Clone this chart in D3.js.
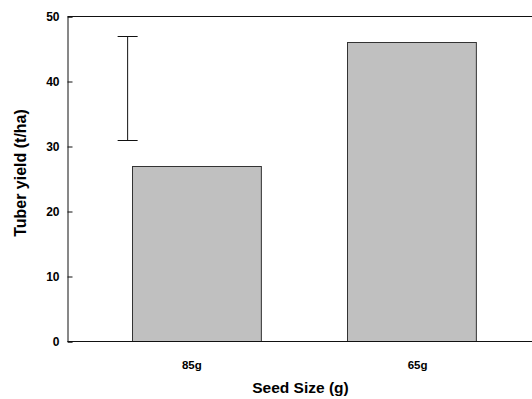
<!DOCTYPE html>
<html><head><meta charset="utf-8">
<script src="https://cdn.jsdelivr.net/npm/d3@7"></script>
<style>body{margin:0;background:#fff}svg{display:block}text{font-family:"Liberation Sans",Arial,sans-serif;font-weight:bold;fill:#000}</style>
</head><body>
<svg id="c" width="532" height="399"></svg>
<script>
const categories = ["85g", "65g"];
const yieldValues = [27, 46];
const errorBar = {low: 31, high: 47};
const yTicks = [0, 10, 20, 30, 40, 50];
const xTitle = "Seed Size (g)";
const yTitle = "Tuber yield (t/ha)";

const FONT = '"Liberation Sans",Arial,sans-serif';
const svg = d3.select("#c");
const L = 67.5, R = 540, T = 16.5, B = 341.5;
const x = d3.scaleBand().domain(categories).range([L, R]).paddingInner(0.4).paddingOuter(0.3);
const y = d3.scaleLinear().domain([0, 50]).range([B, T]);

// bars
svg.selectAll("rect.bar").data(categories).join("rect")
  .attr("class", "bar")
  .attr("x", d => Math.round(x(d)) + 0.5)
  .attr("y", (d, i) => Math.round(y(yieldValues[i])) + 0.5)
  .attr("width", x.bandwidth())
  .attr("height", (d, i) => B - Math.round(y(yieldValues[i])) - 0.5)
  .attr("fill", "#c0c0c0").attr("stroke", "#333").attr("stroke-width", 1);

// frame lines
svg.append("line").attr("x1", L).attr("x2", 532).attr("y1", T).attr("y2", T).attr("stroke", "#111");
svg.append("line").attr("x1", L).attr("x2", 532).attr("y1", B).attr("y2", B).attr("stroke", "#111");

// y axis
const yAxis = d3.axisLeft(y).tickValues(yTicks).tickSize(-5).tickPadding(8).tickFormat(d3.format("d"));
const ga = svg.append("g").attr("transform", `translate(${L},0)`).call(yAxis);
ga.select(".domain").attr("stroke", "#111");
ga.selectAll(".tick line").attr("stroke", "#111");
ga.selectAll(".tick text").style("font-size", "12px").style("font-family", FONT).style("font-weight", "bold").attr("fill", "#000");

// category labels
const lx = d3.scalePoint().domain(categories).range([x(categories[0]) + x.bandwidth() / 2 - 4.5, x(categories[1]) + x.bandwidth() / 2 + 6.5]);
svg.selectAll("text.cat").data(categories).join("text")
  .attr("class", "cat").attr("x", d => lx(d)).attr("y", 368.5)
  .attr("text-anchor", "middle").style("font-size", "11.5px").text(d => d);

// error bar
const ex = x(categories[0]) - 0.02 * x.step();
const cap = 10;
svg.append("line").attr("x1", ex).attr("x2", ex).attr("y1", y(errorBar.high)).attr("y2", y(errorBar.low)).attr("stroke", "#111");
[errorBar.high, errorBar.low].forEach(v => {
  svg.append("line").attr("x1", ex - cap).attr("x2", ex + cap).attr("y1", Math.round(y(v)) + 0.5).attr("y2", Math.round(y(v)) + 0.5).attr("stroke", "#111");
});

// titles
svg.append("text").attr("x", 300.5).attr("y", 393).attr("text-anchor", "middle").style("font-size", "15.5px").text(xTitle);
svg.append("text").attr("transform", "translate(25.5,173) rotate(-90)").attr("text-anchor", "middle").style("font-size", "16px").text(yTitle);
</script>
</body></html>
